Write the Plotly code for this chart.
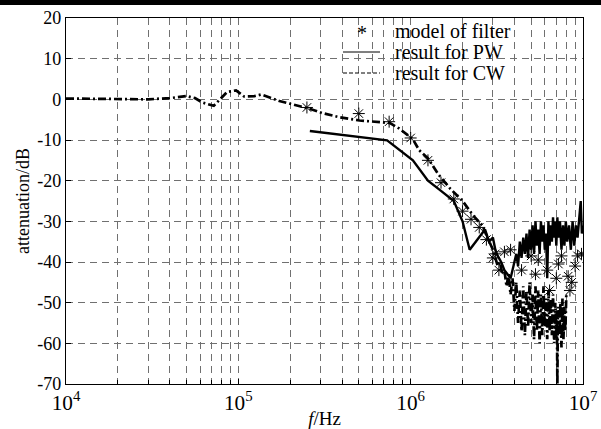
import plotly.graph_objects as go

# ---------------- data ----------------
cw_freq = [1e4, 1.5e4, 2e4, 3e4, 4e4, 5e4, 5.6e4, 6.2e4, 7.2e4, 8.6e4, 9.7e4,
           1.08e5, 1.24e5, 1.36e5, 1.73e5, 2.26e5, 2.59e5, 3.08e5, 3.86e5,
           5.05e5, 6.0e5, 7.55e5, 8.6e5, 1.03e6, 1.12e6, 1.26e6, 1.45e6,
           1.7e6, 2.0e6, 2.3e6, 2.6e6, 2.8e6, 3.0e6, 3.1e6, 3.2e6, 3.3e6, 3.4e6,
           3.5e6, 3.6e6, 3.7e6, 3.8e6, 3.9e6, 4.0e6, 4.1e6, 4.2e6, 4.3e6, 4.4e6,
           4.5e6, 4.6e6, 4.7e6, 4.8e6, 4.9e6, 5.0e6, 5.1e6, 5.2e6, 5.3e6, 5.4e6,
           5.5e6, 5.6e6, 5.7e6, 5.8e6, 5.9e6, 6.0e6, 6.1e6, 6.2e6, 6.3e6, 6.4e6,
           6.5e6, 6.6e6, 6.7e6, 6.8e6, 6.9e6, 7.0e6, 7.05e6, 7.1e6, 7.15e6, 7.2e6,
           7.3e6, 7.4e6, 7.5e6, 7.6e6, 7.7e6, 7.8e6, 7.9e6, 8.0e6]
cw_db = [0.2, 0.1, 0.0, 0.0, 0.3, 0.8, 0.3, -0.8, -1.6, 1.8, 2.2,
         0.7, 0.8, 1.2, -0.4, -1.7, -2.3, -3.4, -4.4,
         -5.2, -5.4, -5.8, -7.2, -9.8, -12.5, -14.5, -18.5,
         -22, -25, -28.5, -31, -34, -37, -39, -41, -40, -43,
         -42, -46, -43, -48, -44, -52, -45, -55, -47, -57,
         -46, -58, -47, -56, -45, -55, -48, -59, -46, -57,
         -47, -60, -48, -58, -46, -56, -49, -59, -47, -57,
         -49, -58, -48, -60, -50, -59, -52, -70, -53, -51,
         -58, -50, -61, -49, -59, -51, -57, -48]

pw_freq = [2.6e5, 7.3e5, 1.03e6, 1.26e6, 1.5e6, 1.78e6, 2.0e6, 2.2e6, 2.7e6,
           2.85e6, 3.0e6, 3.1e6, 3.2e6, 3.35e6, 3.5e6, 3.65e6, 3.8e6, 3.95e6,
           4.1e6, 4.2e6, 4.3e6, 4.4e6, 4.5e6, 4.6e6, 4.7e6, 4.8e6, 4.9e6,
           5.0e6, 5.1e6, 5.2e6, 5.3e6, 5.4e6, 5.5e6, 5.6e6, 5.7e6, 5.8e6,
           5.9e6, 6.0e6, 6.1e6, 6.2e6, 6.3e6, 6.4e6, 6.5e6, 6.6e6, 6.7e6,
           6.8e6, 6.9e6, 7.0e6, 7.1e6, 7.2e6, 7.35e6, 7.5e6, 7.65e6, 7.8e6,
           7.95e6, 8.1e6, 8.3e6, 8.5e6, 8.7e6, 8.9e6, 9.1e6, 9.3e6, 9.5e6,
           9.7e6, 9.85e6, 1.0e7]
pw_db = [-7.8, -10.1, -15, -20, -22.5, -25, -30, -37, -32,
         -35, -34, -37, -38.5, -40, -42, -43, -44, -41,
         -38, -41, -35, -39, -34, -38, -33, -39, -32,
         -37, -31, -38, -30, -36, -32, -38, -30, -35,
         -31, -37, -33, -44, -30, -36, -31, -35, -29,
         -34, -30, -36, -29, -34, -30, -37, -31, -36,
         -30, -35, -31, -37, -30, -36, -31, -34, -29,
         -25, -33, -31]

model_freq = [2.5e5, 5.0e5, 7.5e5, 1.0e6, 1.26e6, 1.5e6, 1.78e6, 2.0e6, 2.24e6,
              2.5e6, 2.75e6, 3.0e6, 3.1e6, 3.25e6, 3.5e6, 3.8e6, 4.4e6, 5.0e6,
              5.3e6, 5.5e6, 6.2e6, 6.4e6, 7.0e6, 7.2e6, 7.5e6, 8.2e6, 8.4e6,
              8.6e6, 9.0e6, 9.3e6, 9.8e6]
model_db = [-2, -3.5, -5.5, -9.5, -15, -20.5, -24.5, -27.5, -29.5,
            -31.5, -34.5, -39, -38, -42, -37.5, -37, -42, -38.5,
            -43, -39.5, -42, -47, -44, -40.5, -38.5, -43.5, -47,
            -45, -41, -38.5, -38]

y_ticks = [20, 10, 0, -10, -20, -30, -40, -50, -60, -70]
y_tick_text = ["20", "10", "0", "-10", "-20", "-30", "-40", "-50", "-60", "-70"]

legend_names = ["model of filter", "result for PW", "result for CW"]

# ---------------- figure ----------------
W, H = 601, 429
L, R, T, B = 66, 18, 18, 45
pw_px = W - L - R
ph_px = H - T - B

def px_x(p):
    return (p - L) / pw_px

def px_y(p):
    return 1 - (p - T) / ph_px

font = "Liberation Serif, Times New Roman, serif"

fig = go.Figure()

fig.add_trace(go.Scatter(x=cw_freq, y=cw_db, mode="lines", name=legend_names[2],
                         line=dict(color="black", width=2.7, dash="8px,3px,2px,3px"),
                         showlegend=False))
fig.add_trace(go.Scatter(x=pw_freq, y=pw_db, mode="lines", name=legend_names[1],
                         line=dict(color="black", width=2.4),
                         showlegend=False))
fig.add_trace(go.Scatter(x=model_freq, y=model_db, mode="markers", name=legend_names[0],
                         marker=dict(symbol="asterisk-open", size=10, color="black",
                                     line=dict(color="black", width=1)),
                         showlegend=False))

# hand-drawn legend (no box), as in the reference
legend_rows_px = [31, 52, 73]
text_x_px = 393
line_x0_px, line_x1_px = 343, 380
annotations = []
for name, ypx in zip(legend_names, legend_rows_px):
    annotations.append(dict(xref="paper", yref="paper", x=px_x(text_x_px), y=px_y(ypx),
                            xanchor="left", yanchor="middle", showarrow=False,
                            text=name, font=dict(family=font, size=20, color="black")))
annotations.append(dict(xref="paper", yref="paper",
                        x=px_x((line_x0_px + line_x1_px) / 2), y=px_y(legend_rows_px[0] + 2),
                        xanchor="center", yanchor="middle", showarrow=False,
                        text="*", font=dict(family=font, size=20, color="black")))

shapes = [
    dict(type="rect", xref="paper", yref="paper",
         x0=px_x(-5), x1=px_x(W + 5), y0=px_y(5), y1=px_y(-10),
         fillcolor="black", line=dict(width=0), layer="above"),
    dict(type="line", xref="paper", yref="paper",
         x0=px_x(line_x0_px), x1=px_x(line_x1_px),
         y0=px_y(legend_rows_px[1]), y1=px_y(legend_rows_px[1]),
         line=dict(color="black", width=1)),
    dict(type="line", xref="paper", yref="paper",
         x0=px_x(line_x0_px), x1=px_x(line_x1_px),
         y0=px_y(legend_rows_px[2]), y1=px_y(legend_rows_px[2]),
         line=dict(color="black", width=1, dash="4px,2px")),
]

fig.update_layout(
    width=W, height=H,
    margin=dict(l=L, r=R, t=T, b=B, autoexpand=False),
    paper_bgcolor="white", plot_bgcolor="white",
    font=dict(family=font, size=18, color="black"),
    showlegend=False,
    shapes=shapes,
    annotations=annotations,
)

fig.update_xaxes(
    type="log", range=[4, 7], dtick=1, exponentformat="power", showexponent="all",
    automargin=False,
    showline=True, linecolor="black", linewidth=1.3, mirror=True,
    ticks="inside", ticklen=5, tickcolor="black",
    showgrid=True, gridcolor="#707070", gridwidth=1, griddash="7px,5px",
    minor=dict(dtick="D1", showgrid=True, gridcolor="#707070", gridwidth=1,
               griddash="7px,5px", ticks="inside", ticklen=4, tickcolor="black"),
    tickfont=dict(family=font, size=17),
    title=dict(text="<i>f</i>/Hz", font=dict(family=font, size=19), standoff=0),
    zeroline=False,
)
fig.update_yaxes(
    range=[-70, 20], tickvals=y_ticks, ticktext=y_tick_text,
    automargin=False,
    showline=True, linecolor="black", linewidth=1.3, mirror=True,
    ticks="inside", ticklen=5, tickcolor="black",
    showgrid=True, gridcolor="#707070", gridwidth=1, griddash="7px,5px",
    tickfont=dict(family=font, size=18),
    title=dict(text="attenuation/dB", font=dict(family=font, size=18), standoff=2),
    zeroline=False,
)

fig.write_html("out.html")
